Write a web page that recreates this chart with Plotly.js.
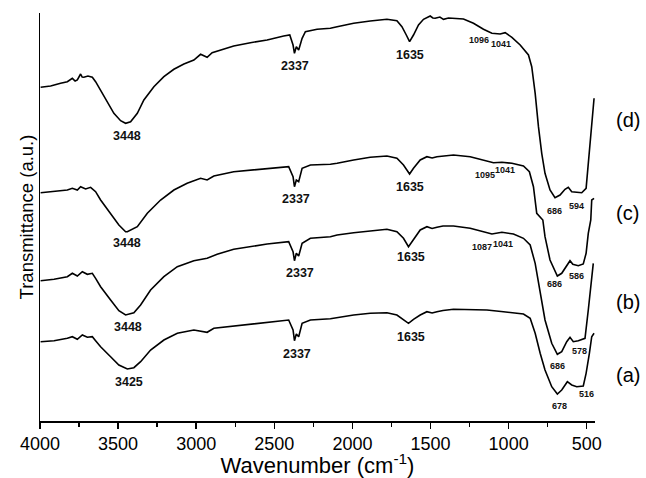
<!DOCTYPE html>
<html>
<head>
<meta charset="utf-8">
<script src="https://cdn.plot.ly/plotly-3.0.1.min.js"></script>
<style>html,body{margin:0;padding:0;background:#fff;}#chart{width:646px;height:478px;}</style>
</head>
<body>
<div id="chart"></div>
<script>
// Wavenumber (cm-1) and transmittance (a.u.) for each spectrum
const dWn = [3996,3932,3868,3825,3793,3775,3761,3750,3740,3730,3719,3693,3665,3644,3612,3569,3527,3484,3452,3420,3377,3335,3271,3207,3143,3079,3015,2972,2930,2898,2855,2760,2653,2546,2440,2401,2380,2371,2359,2344,2322,2301,2226,2141,2098,1992,1886,1779,1715,1683,1655,1634,1609,1577,1545,1502,1485,1470,1440,1417,1385,1353,1289,1225,1161,1107,1054,1022,979,926,873,852,830,809,788,767,735,703,671,639,618,596,564,532,504,483,468,453];
const dT  = [333.7,335,337.7,339.3,342.7,340,341,344,347,344,343.7,345,343.7,339.3,331,319.3,307.7,300.3,297.7,299.3,307.7,321,334.3,344.3,351.7,357,361,366.7,363.7,368.3,370.3,375,378.3,381,385,386,376,367.7,374.3,371,382.7,389.3,391.7,392.7,394.3,397.7,400,401.7,400.3,394.3,386,379.3,386,396,401.7,405,403,402.7,404,401.7,403,402.7,402,397.7,391.7,387.7,387,388.3,383.7,376,366,354.3,327.7,294.3,267.7,247.7,231,223.3,226,231.7,233.7,229.3,228.7,228.3,232.7,271,297.7,322.7];

const cWn = [3996,3910,3825,3793,3761,3740,3708,3676,3644,3612,3548,3495,3452,3441,3377,3313,3228,3143,3058,2972,2930,2887,2760,2546,2408,2380,2371,2359,2344,2322,2269,2141,2098,1992,1886,1779,1715,1673,1634,1609,1566,1523,1490,1459,1420,1353,1246,1161,1097,1043,979,905,867,841,820,781,767,735,688,660,628,607,589,554,522,504,490,474,468,453];
const cT  = [228.3,229.3,231,232.7,231,234.3,232,233.7,229.3,221,207.7,196,189.3,189.3,194.3,207.7,221,231,237.7,242.7,241,245,249.3,252.7,254.3,244.3,234.3,241,239.3,252.7,256,256.7,257.7,261,263.7,265,262.7,256,247,252.7,261,264.3,263,264.3,265,266,264.3,261,258.3,258.7,257.7,255,249.3,234.3,207.7,201,184.3,161,145,147.7,156,160.3,156.7,155.3,157,167.7,187.7,201,221,222.7];

const bWn = [3996,3910,3825,3793,3761,3729,3697,3665,3644,3612,3548,3495,3452,3399,3356,3292,3207,3121,3015,2930,2866,2760,2546,2408,2380,2371,2359,2344,2322,2269,2141,2098,1992,1886,1779,1715,1673,1641,1609,1566,1523,1490,1459,1420,1353,1246,1161,1107,1043,969,905,862,830,798,767,724,688,660,628,607,586,554,511,490,474,458];
const bT  = [140.3,141.7,144.3,147.7,145,149.3,146.7,147.7,142.7,134.3,121,110.3,106,108.3,116,131,144.3,154.3,160.3,162.7,166.7,171.7,177,179.3,169.3,160.3,167.7,165,177.7,182.7,184.3,186,188.3,190.3,191.7,189.3,182.7,174.3,181,191,194.3,192.5,193.7,195,195,192.7,189.3,187,188.7,187,182.7,176,157.7,127.7,101,77.7,66.7,69.3,79.3,83.7,79.3,80.3,82.7,111,134.3,157.7];

const aWn = [3996,3910,3825,3793,3761,3729,3697,3665,3644,3612,3548,3495,3441,3399,3356,3292,3207,3121,3015,2930,2887,2760,2546,2408,2380,2371,2359,2344,2322,2269,2141,2098,1992,1886,1779,1715,1673,1641,1609,1566,1523,1490,1459,1420,1353,1246,1139,1033,905,862,830,798,767,724,688,660,624,596,564,522,504,483,468,453];
const aT  = [79.3,80.3,82.7,84.3,81.7,86,83.7,84.3,80.3,74.3,64.3,56,52,53.3,59.3,71,81,87.7,91,88.7,92.7,95,98.3,101,91,80.3,87,84.3,97.7,101,102.3,103.3,106,107.7,108.3,106,101,97.7,101.7,106,109.3,108,109.3,110.5,111.7,111.7,111,109.3,107,102.7,87.7,67.7,51,34.3,27,31,39.3,36,34.3,35,47.7,67.7,84.3,87.7];

// Peak labels
const bigText = ['3448','2337','1635','3448','2337','1635','3448','2337','1635','3425','2337','1635'];
const bigX    = [3446,2366,1634,3441,2359,1630,3437,2333,1625,3431,2354,1625];
const bigY    = [285,355,366,177.7,222,234.3,94.3,147.7,163.7,38.7,67,83.7];
const smallText = ['1096','1041','686','594','1095','1041','686','586','1087','1041','686','578','678','516'];
const smallX    = [1187,1048,707,564,1150,1022,709,564,1171,1033,685,547,677,500];
const smallY    = [381,376.7,210,215,246,251,137,145,173.7,177,55.3,70.3,15,26.7];
const seriesNames = ['(d)','(c)','(b)','(a)'];
const seriesNameY = [301,208,119,46];

const xTicks = [4000,3500,3000,2500,2000,1500,1000,500];
const xMinor = [3750,3250,2750,2250,1750,1250,750];

const line = {color:'#000', width:1.6};
const traces = [[dWn,dT],[cWn,cT],[bWn,bT],[aWn,aT]].map((p,i)=>({
  x:p[0], y:p[1], type:'scatter', mode:'lines', line:line, name:seriesNames[i],
  hoverinfo:'skip'
}));

const FONT = 'Liberation Sans, Arial, sans-serif';
const annotations = [];
bigText.forEach((t,i)=>annotations.push({x:bigX[i], y:bigY[i], xref:'x', yref:'y', text:'<b>'+t+'</b>', showarrow:false, font:{family:FONT, size:12.5, color:'#111'}}));
smallText.forEach((t,i)=>annotations.push({x:smallX[i], y:smallY[i], xref:'x', yref:'y', text:'<b>'+t+'</b>', showarrow:false, font:{family:FONT, size:9, color:'#111'}}));
seriesNames.forEach((t,i)=>annotations.push({x:1.034, y:seriesNameY[i], xref:'paper', yref:'y', xanchor:'left', text:t, showarrow:false, font:{family:FONT, size:20, color:'#000'}}));

const layout = {
  width:646, height:478,
  margin:{l:40, r:51, t:13, b:57, pad:0},
  paper_bgcolor:'#fff', plot_bgcolor:'#fff',
  showlegend:false,
  font:{family:FONT, color:'#000'},
  xaxis:{
    range:[4000,447], showgrid:false, zeroline:false,
    showline:true, linecolor:'#000', linewidth:1.5,
    ticks:'outside', ticklen:6, tickwidth:1.5, tickcolor:'#000',
    tickvals:xTicks, ticktext:xTicks.map(String),
    minor:{ticks:'outside', ticklen:4, tickwidth:1.5, tickcolor:'#000', tickvals:xMinor},
    tickfont:{family:FONT, size:18, color:'#000'},
    title:{text:'Wavenumber (cm<sup>-1</sup>)', font:{family:FONT, size:22, color:'#000'}, standoff:5}
  },
  yaxis:{
    range:[0,408], showgrid:false, zeroline:false,
    showline:true, linecolor:'#000', linewidth:1.5,
    ticks:'', showticklabels:false,
    title:{text:'Transmittance (a.u.)', font:{family:FONT, size:18.5, color:'#000'}, standoff:0}
  },
  annotations:annotations
};

Plotly.newPlot('chart', traces, layout, {displayModeBar:false, staticPlot:true});
</script>
</body>
</html>
